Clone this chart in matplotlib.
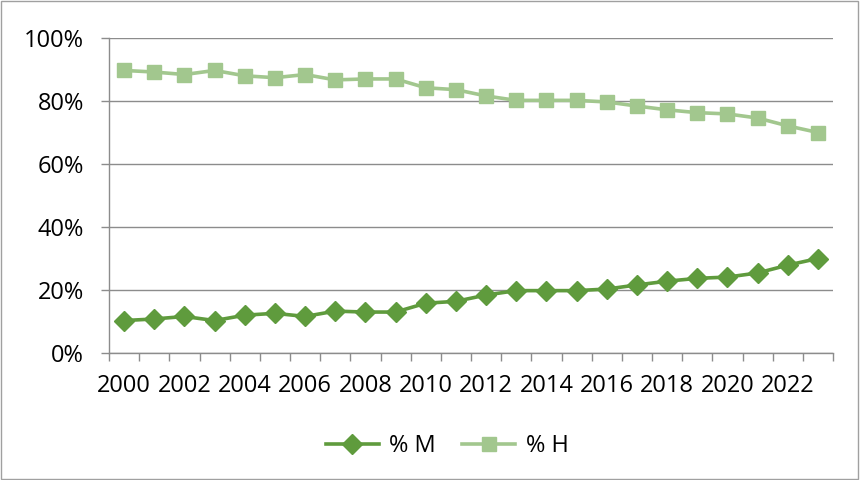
import numpy as np
import matplotlib as mpl
mpl.use('Agg')
import matplotlib.pyplot as plt
from matplotlib.patches import Rectangle

# share of M and H by year (percent)
years = list(range(2000, 2024))
pct_m = [10.3, 10.8, 11.6, 10.3, 12.0, 12.6, 11.6, 13.3, 13.0, 13.0, 15.8, 16.4,
         18.4, 19.8, 19.8, 19.8, 20.3, 21.6, 22.8, 23.7, 24.1, 25.4, 27.9, 30.0]
pct_h = [89.7, 89.2, 88.4, 89.7, 88.0, 87.4, 88.4, 86.7, 87.0, 87.0, 84.2, 83.6,
         81.6, 80.2, 80.2, 80.2, 79.7, 78.4, 77.2, 76.3, 75.9, 74.6, 72.1, 70.0]
tick_years = [str(y) for y in years[::2]]

dark_green = '#5F9B3D'
light_green = '#A2C78E'
grid_grey = '#8C8C8C'

plt.rcParams['font.family'] = ['Open Sans', 'DejaVu Sans']
fs = 17

fig = plt.figure(figsize=(8.6, 4.8), dpi=100)
ax = fig.add_axes([109/860, 1-353/480, (833-109)/860, (353-38)/480])

x = np.arange(len(years))
ax.plot(x, pct_m, color=dark_green, lw=2.6, marker='D', ms=10.5,
        label='% M', zorder=3)
ax.plot(x, pct_h, color=light_green, lw=2.6, marker='s', ms=9.5,
        label='% H', zorder=3)

ax.set_xlim(-0.5, len(years) - 0.5)
ax.set_ylim(0, 100)
ax.set_yticks(np.arange(0, 101, 20))
ax.set_yticklabels([f'{v}%' for v in range(0, 101, 20)], fontsize=fs)
ax.yaxis.grid(True, color=grid_grey, lw=1)
ax.set_axisbelow(True)

# tick marks sit between categories, labels on every other year
ax.set_xticks(np.arange(-0.5, len(years), 1.0))
ax.set_xticklabels([])
ax.set_xticks(x[::2], minor=True)
ax.set_xticklabels(tick_years, minor=True, fontsize=fs)
ax.tick_params(axis='x', which='major', length=6, color=grid_grey, width=1)
ax.tick_params(axis='x', which='minor', length=0, pad=15)
ax.tick_params(axis='y', length=6, color=grid_grey, width=1, pad=12)

for side in ['top', 'right']:
    ax.spines[side].set_visible(False)
for side in ['left', 'bottom']:
    ax.spines[side].set_color(grid_grey)
    ax.spines[side].set_linewidth(1)

fig.legend(loc='center', bbox_to_anchor=(0.52, 1-446/480), ncol=2,
           frameon=False, fontsize=fs, handlelength=2.25, columnspacing=1.1,
           handletextpad=0.45)

fig.patches.append(Rectangle((0.001, 0.002), 0.997, 0.995, transform=fig.transFigure,
                             fill=False, edgecolor='#A0A0A0', lw=1))

fig.savefig('out.png', dpi=100)
